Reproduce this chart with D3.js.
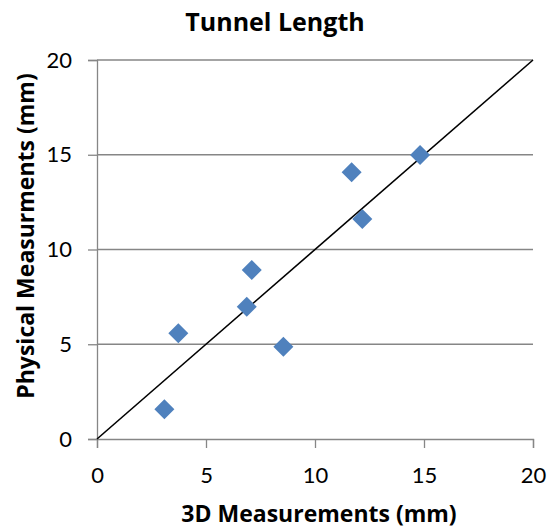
<!DOCTYPE html>
<html>
<head>
<meta charset="utf-8">
<script src="https://cdn.jsdelivr.net/npm/d3@7/dist/d3.min.js"></script>
<style>
  html, body { margin: 0; padding: 0; background: #fff; }
  svg { display: block; font-family: "Open Sans", Lato, sans-serif; }
</style>
</head>
<body>
<svg id="chart" width="550" height="531"></svg>
<script>
// Tunnel length: 3D scan vs. physical measurement (mm)
const measured3D = [3.09, 3.73, 6.87, 7.10, 8.55, 11.68, 12.17, 14.82];
const physical   = [1.57, 5.58, 6.98, 8.92, 4.87, 14.07, 11.61, 14.99];
const xTicks = [0, 5, 10, 15, 20];
const yTicks = [0, 5, 10, 15, 20];
const identityLine = [[0, 0], [20, 20]];

const svg = d3.select("#chart");
const margin = { left: 97, right: 17, top: 60, bottom: 92 };
const width = 550, height = 531;

const x = d3.scaleLinear().domain([0, 20]).range([margin.left, width - margin.right]);
const y = d3.scaleLinear().domain([0, 20]).range([height - margin.bottom, margin.top]);

const gridColor = "#868686";
const tickFont = "Lato, sans-serif";

// horizontal gridlines
svg.append("g")
  .selectAll("line")
  .data(yTicks.filter(d => d > 0))
  .join("line")
  .attr("x1", x(0)).attr("x2", x(20))
  .attr("y1", d => y(d)).attr("y2", d => y(d))
  .attr("stroke", gridColor).attr("stroke-width", 1.3);

// y axis
const yAxis = svg.append("g")
  .attr("transform", `translate(${x(0)},0)`)
  .call(d3.axisLeft(y).tickValues(yTicks).tickSize(9).tickPadding(16).tickFormat(d3.format("d")));
yAxis.select(".domain").attr("stroke", gridColor).attr("stroke-width", 1.3);
yAxis.selectAll(".tick line").attr("stroke", gridColor).attr("stroke-width", 1.3);
yAxis.selectAll(".tick text")
  .attr("font-family", tickFont).attr("font-size", 22).attr("fill", "#000");

// x axis
const xAxis = svg.append("g")
  .attr("transform", `translate(0,${y(0)})`)
  .call(d3.axisBottom(x).tickValues(xTicks).tickSize(9).tickPadding(19).tickFormat(d3.format("d")));
xAxis.select(".domain").attr("stroke", gridColor).attr("stroke-width", 1.3);
xAxis.selectAll(".tick line").attr("stroke", gridColor).attr("stroke-width", 1.3);
xAxis.selectAll(".tick text")
  .attr("font-family", tickFont).attr("font-size", 22).attr("fill", "#000");

// y = x reference line
svg.append("path")
  .datum(identityLine)
  .attr("d", d3.line().x(d => x(d[0])).y(d => y(d[1])))
  .attr("stroke", "#000").attr("stroke-width", 1.6).attr("fill", "none");

// data points as diamonds
const diamond = d3.symbol().type(d3.symbolSquare).size(200);
svg.append("g")
  .selectAll("path")
  .data(measured3D.map((v, i) => [v, physical[i]]))
  .join("path")
  .attr("d", diamond)
  .attr("transform", d => `translate(${x(d[0])},${y(d[1])}) rotate(45)`)
  .attr("fill", "#4F81BD");

// title
svg.append("text")
  .attr("x", 275).attr("y", 31)
  .attr("text-anchor", "middle")
  .attr("font-weight", "bold").attr("font-size", 25)
  .text("Tunnel Length");

// axis titles
svg.append("text")
  .attr("x", 319).attr("y", 522)
  .attr("text-anchor", "middle")
  .attr("font-weight", "bold").attr("font-size", 23)
  .text("3D Measurements (mm)");

svg.append("text")
  .attr("transform", "translate(34,236) rotate(-90)")
  .attr("text-anchor", "middle")
  .attr("font-weight", "bold").attr("font-size", 23)
  .text("Physical Measurments (mm)");
</script>
</body>
</html>
